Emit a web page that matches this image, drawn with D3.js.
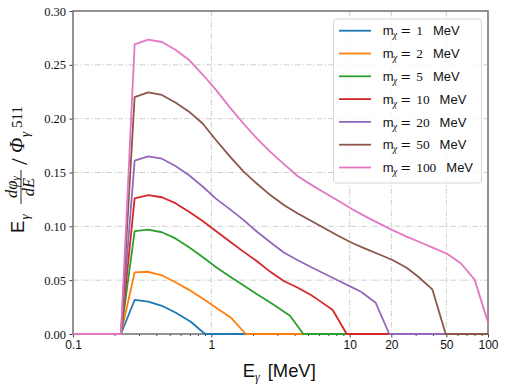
<!DOCTYPE html>
<html>
<head>
<meta charset="utf-8">
<script src="https://cdn.jsdelivr.net/npm/d3@7"></script>
<style>
body { margin: 0; background: #fff; }
</style>
</head>
<body>
<svg id="chart" width="505" height="389"></svg>
<script>
// spectra E_gamma dphi/dE / phi_511, one list of [E (MeV), value] per dark matter mass
var masses = [1, 2, 5, 10, 20, 50, 100];
var colors = ["#1f77b4", "#ff7f0e", "#2ca02c", "#d62728", "#9467bd", "#8c564b", "#e377c2"];

var mx1 = [[0.1,0],[0.222,0],[0.279,0.0316],[0.350,0.0300],[0.439,0.0262],[0.550,0.0200],[0.710,0.0114],[0.900,0],[100,0]];
var mx2 = [[0.1,0],[0.222,0],[0.279,0.0573],[0.350,0.0578],[0.439,0.0545],[0.550,0.0480],[0.690,0.0410],[0.865,0.0329],[1.084,0.0243],[1.403,0.0146],[1.772,0],[100,0]];
var mx5 = [[0.1,0],[0.222,0],[0.279,0.0955],[0.350,0.0970],[0.439,0.0945],[0.550,0.0888],[0.690,0.0805],[0.865,0.0715],[1.084,0.0620],[1.360,0.0533],[1.705,0.0453],[2.139,0.0369],[2.683,0.0290],[3.705,0.0170],[4.624,0],[100,0]];
var mx10 = [[0.1,0],[0.222,0],[0.279,0.126],[0.350,0.129],[0.439,0.127],[0.550,0.1215],[0.690,0.1135],[0.865,0.105],[1.084,0.0955],[1.360,0.086],[1.705,0.0765],[2.139,0.0675],[2.683,0.0575],[3.364,0.049],[4.219,0.043],[5.290,0.036],[6.033,0.031],[7.541,0.0223],[9.52,0],[100,0]];
var mx20 = [[0.1,0],[0.222,0],[0.279,0.161],[0.350,0.165],[0.439,0.1628],[0.550,0.156],[0.690,0.1475],[0.865,0.137],[1.084,0.1255],[1.360,0.116],[1.705,0.106],[2.139,0.095],[2.683,0.085],[3.364,0.0755],[4.219,0.0685],[5.290,0.062],[6.634,0.0557],[8.318,0.0495],[10.43,0.0433],[12.08,0.0393],[15.43,0.029],[19.35,0],[100,0]];
var mx50 = [[0.1,0],[0.222,0],[0.279,0.220],[0.350,0.2245],[0.439,0.222],[0.550,0.215],[0.690,0.2065],[0.865,0.1955],[1.084,0.180],[1.360,0.165],[1.705,0.151],[2.139,0.1395],[2.683,0.1288],[3.364,0.1195],[4.219,0.112],[5.290,0.105],[6.634,0.098],[8.318,0.091],[10.43,0.0845],[13.08,0.079],[16.41,0.0738],[20.58,0.0685],[25.80,0.0615],[31.35,0.0532],[39.57,0.0415],[49.47,0],[100,0]];
var mx100 = [[0.1,0],[0.222,0],[0.279,0.269],[0.350,0.2735],[0.439,0.2712],[0.550,0.264],[0.690,0.2545],[0.865,0.241],[1.084,0.2265],[1.360,0.2105],[1.705,0.1955],[2.139,0.1815],[2.683,0.169],[3.364,0.1575],[4.219,0.1465],[5.290,0.1385],[6.634,0.131],[8.318,0.1235],[10.43,0.1158],[13.08,0.109],[16.41,0.1025],[20.58,0.0962],[25.80,0.0905],[32.36,0.0852],[40.58,0.0798],[50.89,0.0743],[63.82,0.0655],[80.03,0.0505],[100,0.0108]];
var series = [mx1, mx2, mx5, mx10, mx20, mx50, mx100];

var xMajor = [0.1, 1, 10, 20, 50, 100];
var xMinor = [0.2,0.3,0.4,0.5,0.6,0.7,0.8,0.9,2,3,4,5,6,7,8,9,30,40,60,70,80,90];
var yTicks = [0, 0.05, 0.10, 0.15, 0.20, 0.25, 0.30];

var sans = "Liberation Sans, Arial, sans-serif";
var serif = "Liberation Serif, Times New Roman, serif";

var svg = d3.select("#chart");
var L = 73, R = 488, T = 11, B = 334;

var x = d3.scaleLog().domain([0.1, 100]).range([L, R]);
var y = d3.scaleLinear().domain([0, 0.30]).range([B, T]);

// grid
var grid = svg.append("g").attr("stroke", "#c8c8c8").attr("stroke-width", 0.9)
  .attr("stroke-dasharray", "5.5,2.2,1.2,2.2");
grid.selectAll(".gy").data(yTicks.slice(1, -1)).enter().append("line")
  .attr("x1", L).attr("x2", R)
  .attr("y1", function(d) { return y(d); }).attr("y2", function(d) { return y(d); });
grid.selectAll(".gx").data([1, 10, 20, 50]).enter().append("line")
  .attr("y1", T).attr("y2", B)
  .attr("x1", function(d) { return x(d); }).attr("x2", function(d) { return x(d); });

// axes
var xAxis = svg.append("g").attr("transform", "translate(0," + B + ")")
  .call(d3.axisBottom(x).tickValues(xMajor).tickFormat(d3.format("")).tickSize(3.5).tickPadding(3));
svg.append("g").attr("transform", "translate(0," + B + ")")
  .call(d3.axisBottom(x).tickValues(xMinor).tickFormat("").tickSize(2))
  .select(".domain").remove();
var yAxis = svg.append("g").attr("transform", "translate(" + L + ",0)")
  .call(d3.axisLeft(y).tickValues(yTicks).tickFormat(d3.format(".2f")).tickSize(3.5).tickPadding(3.5));

svg.selectAll(".domain").remove();
svg.selectAll(".tick line").attr("stroke", "#444");
xAxis.selectAll("text").attr("font-family", sans).attr("font-size", 12).attr("fill", "#111");
yAxis.selectAll("text").attr("font-family", serif).attr("font-size", 12.5).attr("fill", "#111");

// frame
svg.append("rect").attr("x", L).attr("y", T).attr("width", R - L).attr("height", B - T)
  .attr("fill", "none").attr("stroke", "#777").attr("stroke-width", 1.6);

// curves
var line = d3.line()
  .x(function(d) { return x(d[0]); })
  .y(function(d) { return y(d[1]); });
svg.append("g").selectAll("path").data(series).enter().append("path")
  .attr("d", line)
  .attr("fill", "none")
  .attr("stroke", function(d, i) { return colors[i]; })
  .attr("stroke-width", 1.8)
  .attr("stroke-linejoin", "round");

// legend
var lg = svg.append("g");
lg.append("rect").attr("x", 333.5).attr("y", 19).attr("width", 148).attr("height", 164).attr("rx", 3)
  .attr("fill", "#fff").attr("fill-opacity", 0.8).attr("stroke", "#d6d6d6").attr("stroke-width", 1);
masses.forEach(function(m, i) {
  var yy = 30.7 + i * 22.8;
  lg.append("line").attr("x1", 339).attr("x2", 371).attr("y1", yy).attr("y2", yy)
    .attr("stroke", colors[i]).attr("stroke-width", 1.8);
  var t = lg.append("text").attr("y", yy + 4.6).attr("font-size", 13).attr("fill", "#111");
  var x0 = 382.7;
  t.append("tspan").attr("x", x0).attr("font-family", sans).text("m");
  t.append("tspan").attr("x", x0 + 10.3).attr("dy", 3).attr("font-family", serif)
    .attr("font-style", "italic").attr("font-size", 9.5).text("χ");
  t.append("tspan").attr("x", x0 + 17.5).attr("dy", -3).attr("font-family", "DejaVu Serif, serif").text("=");
  t.append("tspan").attr("x", x0 + 33.5).attr("font-family", serif).attr("font-size", 13.4).text(String(m));
  t.append("tspan").attr("x", x0 + 33.5 + 6.7 * String(m).length + 10).attr("font-family", sans).text("MeV");
});

// x label
var xl = svg.append("text").attr("x", 242.7).attr("y", 376.7).attr("font-size", 18.4).attr("fill", "#111");
xl.append("tspan").attr("font-family", sans).text("E");
xl.append("tspan").attr("font-family", serif).attr("font-style", "italic").attr("font-size", 12).attr("dy", 4).text("γ");
xl.append("tspan").attr("font-family", sans).attr("dy", -4).attr("dx", 8).text("[MeV]");

// y label (built horizontally, then rotated)
var yl = svg.append("g").attr("transform", "translate(24,233) rotate(-90)").attr("fill", "#111");
yl.append("text").attr("x", 0).attr("y", 0).attr("font-family", sans).attr("font-size", 18.4).text("E");
yl.append("text").attr("x", 13.5).attr("y", 5).attr("font-family", serif).attr("font-style", "italic").attr("font-size", 13).text("γ");
var num = yl.append("text").attr("x", 46).attr("y", -7.5).attr("text-anchor", "middle")
  .attr("font-family", serif).attr("font-style", "italic").attr("font-size", 16.5);
num.append("tspan").text("dφ");
num.append("tspan").attr("font-size", 11).attr("dy", 2.5).text("γ");
yl.append("line").attr("x1", 29).attr("x2", 63).attr("y1", -3).attr("y2", -3).attr("stroke", "#111").attr("stroke-width", 0.9);
yl.append("text").attr("x", 46).attr("y", 9.5).attr("text-anchor", "middle")
  .attr("font-family", serif).attr("font-style", "italic").attr("font-size", 16.5).text("dE");
yl.append("text").attr("x", 68).attr("y", 3).attr("font-family", serif).attr("font-size", 24).text("/");
yl.append("text").attr("x", 80).attr("y", 0).attr("font-family", serif).attr("font-style", "italic").attr("font-size", 20).text("Φ");
yl.append("text").attr("x", 96).attr("y", 5).attr("font-family", serif).attr("font-style", "italic").attr("font-size", 13).text("γ");
yl.append("text").attr("x", 105).attr("y", -2).attr("font-family", serif).attr("font-size", 15).text("511");
</script>
</body>
</html>
